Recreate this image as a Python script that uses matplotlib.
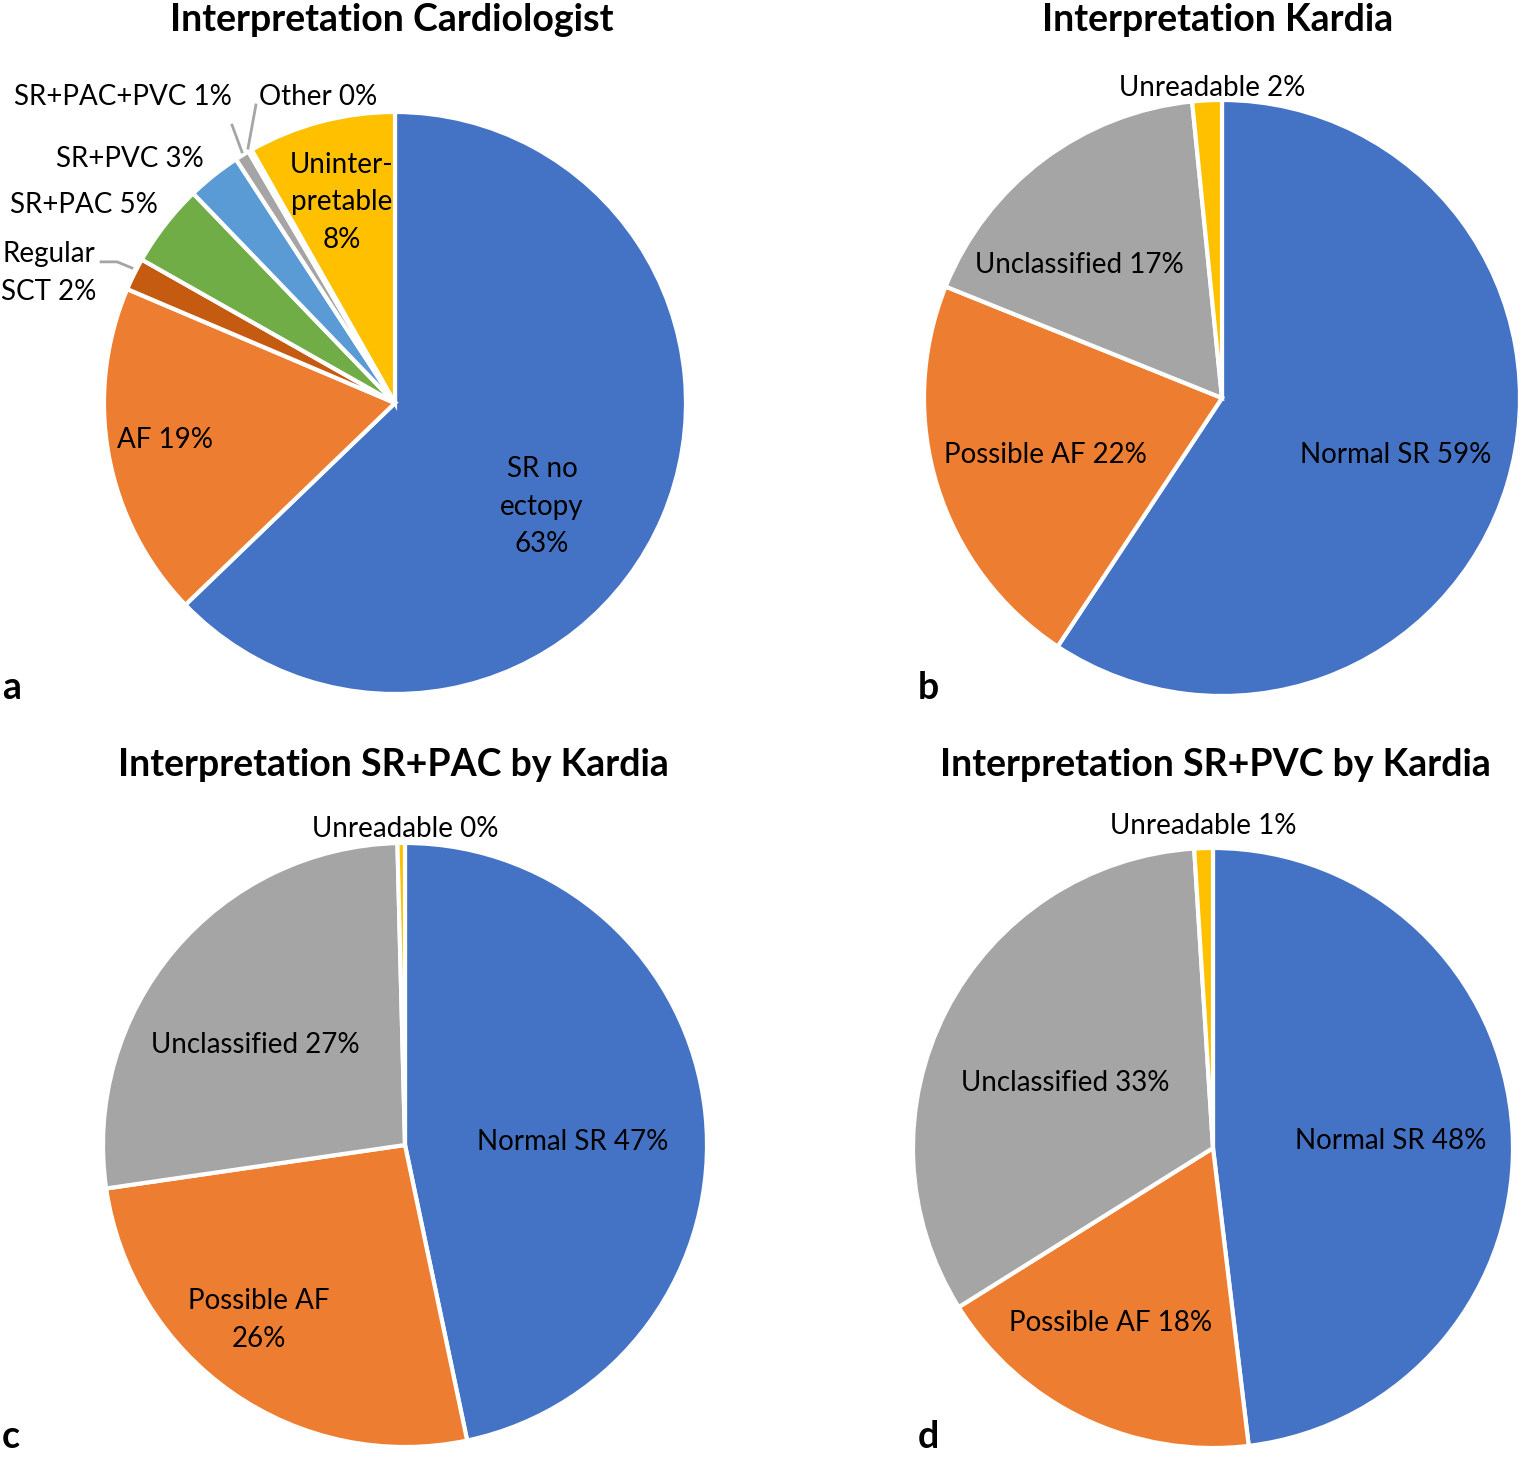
import matplotlib
matplotlib.use("Agg")
import matplotlib.pyplot as plt

plt.rcParams['font.family'] = ['Lato', 'DejaVu Sans']

W, H = 1526, 1457
DPI = 100

BLUE = "#4472C4"
ORANGE = "#ED7D31"
GRAY = "#A5A5A5"
YELLOW = "#FFC000"
DKORANGE = "#C55A11"
GREEN = "#70AD47"
LTBLUE = "#5B9BD5"
NAVY = "#264478"

# panel a - cardiologist
a_names = ["SR no\nectopy\n", "AF ", "Regular\nSCT ", "SR+PAC ", "SR+PVC ",
           "SR+PAC+PVC ", "Other ", "Uninter-\npretable\n"]
a_values = [62.8, 18.6, 1.8, 4.6, 3.0, 0.8, 0.2, 8.2]
a_colors = [BLUE, ORANGE, DKORANGE, GREEN, LTBLUE, GRAY, NAVY, YELLOW]

# panel b - Kardia
b_names = ["Normal SR ", "Possible AF ", "Unclassified ", "Unreadable "]
b_values = [59.3, 21.8, 17.3, 1.6]

# panel c - SR+PAC by Kardia
c_names = ["Normal SR ", "Possible AF\n", "Unclassified ", "Unreadable "]
c_values = [46.7, 26.0, 26.9, 0.4]

# panel d - SR+PVC by Kardia
d_names = ["Normal SR ", "Possible AF ", "Unclassified ", "Unreadable "]
d_values = [48.1, 18.0, 32.9, 1.0]

k_colors = [BLUE, ORANGE, GRAY, YELLOW]

fig = plt.figure(figsize=(W / DPI, H / DPI), dpi=DPI)


def pie_axes(cx, cy, r):
    ax = fig.add_axes([(cx - r) / W, 1 - (cy + r) / H, 2 * r / W, 2 * r / H])
    return ax


def draw(ax, names, values, colors, label_pos):
    ax.pie(values, colors=colors, startangle=90, counterclock=False, radius=1,
           wedgeprops=dict(edgecolor="white", linewidth=3))
    ax.set_xlim(-1, 1)
    ax.set_ylim(-1, 1)
    ax.axis("off")
    for name, v, (x, y) in zip(names, values, label_pos):
        ax.text(x, y, f"{name}{v:.0f}%", ha="center", va="center",
                fontsize=20, linespacing=1.55, color="black")


# a
ax = pie_axes(395, 403, 291)
draw(ax, a_names, a_values, a_colors,
     [(0.505, -0.357), (-0.79, -0.127), (-1.19, 0.447), (-1.07, 0.68),
      (-0.91, 0.84), (-0.935, 1.05), (-0.265, 1.05), (-0.182, 0.69)])
lc = "#A5A5A5"
ax.plot([-1.01, -0.955, -0.904], [0.485, 0.485, 0.464], color=lc, lw=2, clip_on=False)
ax.plot([-0.56, -0.526], [0.955, 0.863], color=lc, lw=2, clip_on=False)
ax.plot([-0.478, -0.505], [1.024, 0.876], color=lc, lw=2, clip_on=False)

# b
ax = pie_axes(1222, 398, 298)
draw(ax, b_names, b_values, k_colors,
     [(0.584, -0.191), (-0.594, -0.191), (-0.477, 0.446), (-0.034, 1.04)])

# c
ax = pie_axes(405, 1145, 302)
draw(ax, c_names, c_values, k_colors,
     [(0.556, 0.01), (-0.483, -0.58), (-0.497, 0.331), (0.0, 1.046)])

# d
ax = pie_axes(1213, 1148, 300)
draw(ax, d_names, d_values, k_colors,
     [(0.593, 0.023), (-0.343, -0.583), (-0.493, 0.217), (-0.033, 1.073)])

titles = ["Interpretation Cardiologist", "Interpretation Kardia",
          "Interpretation SR+PAC by Kardia", "Interpretation SR+PVC by Kardia"]
title_xy = [(392, 20), (1218, 20), (393, 765), (1215, 765)]
for t, (x, y) in zip(titles, title_xy):
    fig.text(x / W, 1 - y / H, t, ha="center", va="center",
             fontsize=27, fontweight="bold")

letters = ["a", "b", "c", "d"]
letter_xy = [(2, 688), (918, 688), (2, 1437), (918, 1437)]
for t, (x, y) in zip(letters, letter_xy):
    fig.text(x / W, 1 - y / H, t, ha="left", va="center",
             fontsize=27, fontweight="bold")

fig.savefig("out.png", dpi=DPI)
